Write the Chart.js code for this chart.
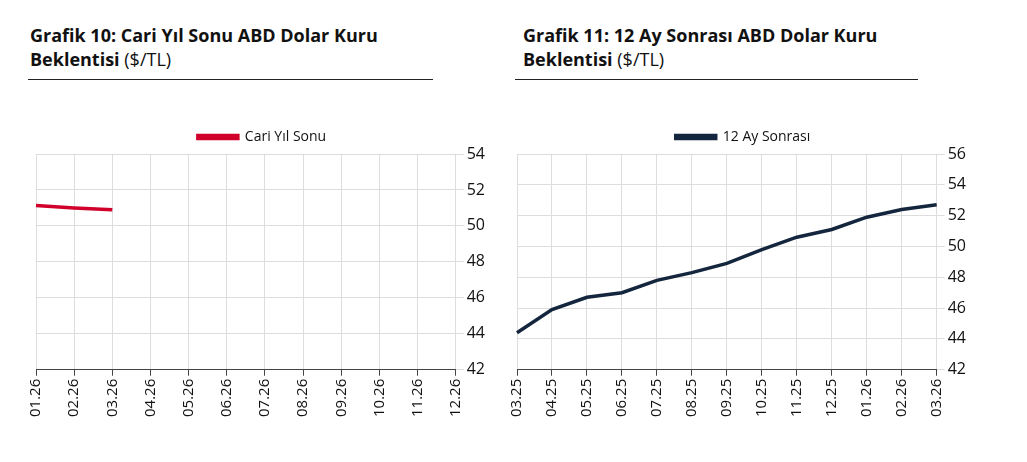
<!DOCTYPE html>
<html lang="tr">
<head>
<meta charset="UTF-8">
<script src="https://cdn.jsdelivr.net/npm/chart.js@4"></script>
<style>
  body { margin:0; background:#fff; font-family:"Open Sans", sans-serif; width:1027px; height:462px; position:relative; overflow:hidden; }
  .title { position:absolute; top:23px; font-size:18px; line-height:24px; color:#111; }
  .title b { font-weight:700; }
  .rule { position:absolute; top:79px; height:1px; background:#222; }
  .box { position:absolute; top:120px; height:300px; }
</style>
</head>
<body>
<div class="title" style="left:30px"><b>Grafik 10: Cari Yıl Sonu ABD Dolar Kuru<br>Beklentisi</b> ($/TL)</div>
<div class="rule" style="left:28px;width:405px"></div>
<div class="title" style="left:523px"><b>Grafik 11: 12 Ay Sonrası ABD Dolar Kuru<br>Beklentisi</b> ($/TL)</div>
<div class="rule" style="left:515px;width:403px"></div>
<div class="box" style="left:22px;width:470px"><canvas id="c1"></canvas></div>
<div class="box" style="left:503px;width:470px"><canvas id="c2"></canvas></div>
<script>
const labels1 = ['01.26','02.26','03.26','04.26','05.26','06.26','07.26','08.26','09.26','10.26','11.26','12.26'];
const values1 = [51.13, 51.0, 50.9];
const labels2 = ['03.25','04.25','05.25','06.25','07.25','08.25','09.25','10.25','11.25','12.25','01.26','02.26','03.26'];
const values2 = [44.4, 45.9, 46.7, 47.0, 47.8, 48.3, 48.9, 49.8, 50.6, 51.1, 51.9, 52.4, 52.7];

function make(id, labels, data, name, color, min, max) {
  new Chart(document.getElementById(id), {
    type: 'line',
    data: { labels: labels, datasets: [{ label: name, data: data, borderColor: color, backgroundColor: color, borderWidth: 3.5, pointRadius: 0, tension: 0 }] },
    options: {
      responsive: true, maintainAspectRatio: false, animation: false,
      layout: { padding: { left: 14, right: 4 } },
      plugins: { legend: { labels: { boxWidth: 40, boxHeight: 3, color: '#111', font: { family: 'Open Sans', size: 14 } } } },
      scales: {
        x: { offset: false, grid: { color: '#ddd', tickLength: 6, tickColor: '#444' }, border: { color: '#444' },
             ticks: { color: '#111', font: { family: 'Open Sans', size: 15 }, maxRotation: 90, minRotation: 90 } },
        y: { position: 'right', min: min, max: max, grid: { color: '#ddd' }, border: { display: false },
             ticks: { stepSize: 2, color: '#111', font: { family: 'Open Sans', size: 16 } } }
      }
    }
  });
}
make('c1', labels1, values1, 'Cari Yıl Sonu', '#d0002a', 42, 54);
make('c2', labels2, values2, '12 Ay Sonrası', '#14263d', 42, 56);
</script>
</body>
</html>
